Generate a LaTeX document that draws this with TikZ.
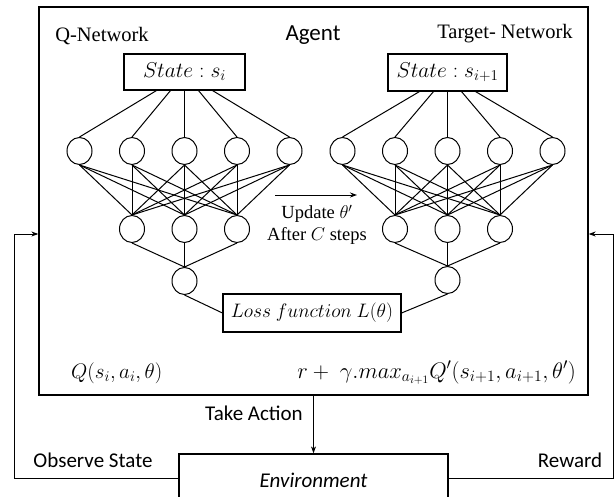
\RequirePackage{fix-cm}
\documentclass[tikz,border=0pt]{standalone}
\usepackage{fontspec}
\setmainfont{Liberation Serif}
\setsansfont{Carlito}
\usetikzlibrary{shapes.geometric,arrows.meta}
\begin{document}
\begin{tikzpicture}[x=1pt,y=-1pt,
  neuron/.style={draw,ellipse,minimum width=25pt,minimum height=27pt,inner sep=0pt,line width=1pt},
  mbox/.style={draw,rectangle,line width=1.1pt,inner sep=0pt},
  link/.style={line width=1pt},
  frame/.style={draw,line width=1.3pt,inner sep=0pt},
  arr/.style={line width=1pt,-{Stealth[length=7pt,width=5pt]}},
  mtxt/.style={inner sep=0pt,font=\fontsize{21}{25}\selectfont},
  lbl/.style={inner sep=0pt,font=\sffamily\fontsize{21}{25}\selectfont},
  slbl/.style={inner sep=0pt,font=\rmfamily\fontsize{20.5}{24}\selectfont},
  tlbl/.style={inner sep=0pt,font=\rmfamily\fontsize{18.5}{22}\selectfont}]
\useasboundingbox (0,0) rectangle (615,497);
\clip (0,0) rectangle (615,497);

% agent frame and environment
\node[frame,minimum width=549pt,minimum height=388pt] (agent) at (313.5,201) {};
\node[frame,minimum width=269pt,minimum height=52pt,font=\sffamily\itshape\fontsize{21}{25}\selectfont] (env) at (313.5,480) {Environment};

% labels
\node[slbl] (qn) at (102,36) {Q-Network};
\node[inner sep=0pt,font=\sffamily\fontsize{23}{27}\selectfont] (ag) at (313,35) {Agent};
\node[slbl] (tn) at (505,34) {Target- Network};

% state boxes
\node[mbox,minimum width=121pt,minimum height=36pt,font=\fontsize{21.5}{25}\selectfont] (sL) at (184.5,72) {$State : s_i$};
\node[mbox,minimum width=119pt,minimum height=37pt,font=\fontsize{21.5}{25}\selectfont] (sR) at (447.5,72.5) {$State : s_{i+1}$};

% left network
\foreach \i/\x in {1/79.5,2/132,3/184.5,4/237,5/289.5} \node[neuron] (a\i) at (\x,151) {};
\foreach \i/\x in {1/132,2/184.5,3/237} \node[neuron] (b\i) at (\x,229) {};
\node[neuron] (c) at (184.5,281) {};
% right network
\foreach \i/\x in {1/342.5,2/395,3/447.5,4/500,5/552.5} \node[neuron] (ra\i) at (\x,151) {};
\foreach \i/\x in {1/395,2/447.5,3/500} \node[neuron] (rb\i) at (\x,229) {};
\node[neuron] (rc) at (447.5,280) {};

% loss box
\node[mbox,minimum width=178pt,minimum height=38pt,font=\fontsize{19.5}{23}\selectfont] (loss) at (312,313) {$Loss\ function\ L(\theta)$};

% edges
\foreach \i/\o in {1/-28,2/-14,3/0,4/14,5/28} {
  \draw[link] ([xshift=\o pt]sL.south) -- (a\i.north);
  \draw[link] ([xshift=\o pt]sR.south) -- (ra\i.north);
}
\foreach \i in {1,...,5} \foreach \j in {1,2,3} {
  \draw[link] (a\i.south) -- (b\j.north);
  \draw[link] (ra\i.south) -- (rb\j.north);
}
\foreach \j in {1,2,3} {
  \draw[link] (b\j.south) -- (c.north);
  \draw[link] (rb\j.south) -- (rc.north);
}
\draw[link] (c.south) -- (loss.west);
\draw[link] (rc.south) -- (loss.east);

% update arrow
\coordinate (u1) at (275,195);
\coordinate (u2) at (357,195);
\draw[arr] (u1) -- (u2);
\node[tlbl] (up) at (317,214) {Update $\theta'$};
\node[tlbl] (af) at (317,236) {After $C$ steps};

% formulas
\node[mtxt,anchor=base west] (ql) at (71,378) {$Q(s_i,a_i,\theta)$};
\node[inner sep=0pt,font=\fontsize{22.5}{26}\selectfont,anchor=base east] (qr) at (576,378) {$r+\ \gamma.max_{a_{i+1}}Q'(s_{i+1},a_{i+1},\theta')$};

% loop connectors
\coordinate (lt) at (14,234);
\coordinate (rt) at (613,234);
\draw[arr] ([yshift=2pt]env.west) -| (lt) -- (lt -| agent.west);
\draw[arr] ([yshift=2pt]env.east) -| (rt) -- (rt -| agent.east);
\draw[arr] (agent.south) -- (env.north);

\node[lbl] (ta) at (254,413) {Take Action};
\node[lbl] (os) at (93,460) {Observe State};
\node[lbl] (rw) at (570,460) {Reward};
\end{tikzpicture}
\end{document}
